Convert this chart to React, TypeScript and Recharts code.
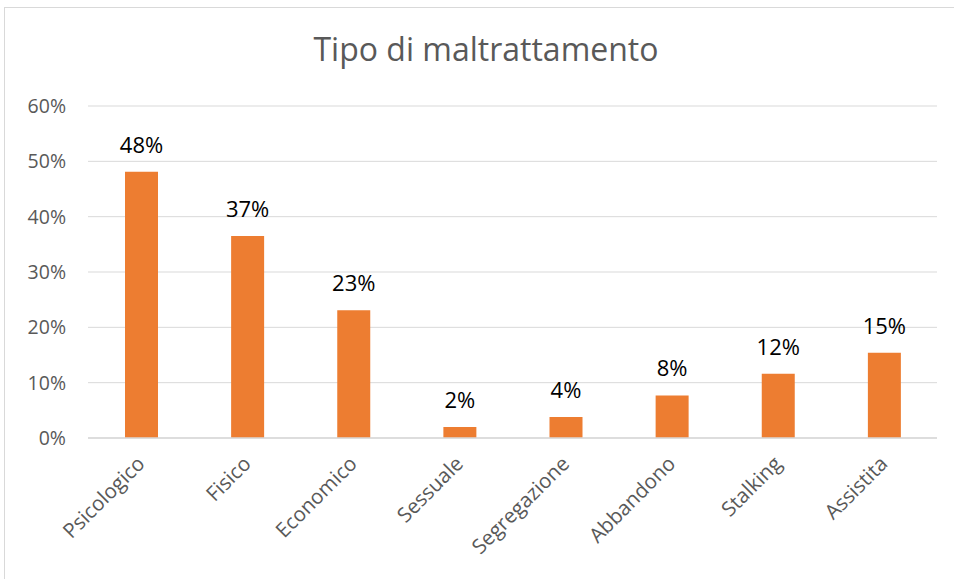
import { BarChart, Bar, XAxis, YAxis, CartesianGrid, LabelList } from 'recharts'

const categories = ['Psicologico', 'Fisico', 'Economico', 'Sessuale', 'Segregazione', 'Abbandono', 'Stalking', 'Assistita']
const values = [0.481, 0.365, 0.231, 0.02, 0.038, 0.077, 0.116, 0.154]
const yTicks = [0, 0.1, 0.2, 0.3, 0.4, 0.5, 0.6]

const data = categories.map((name, i) => ({ name, value: values[i] }))

const pct = (v: number) => `${Math.round(v * 100)}%`
const FONT = '"Open Sans", "Noto Sans", sans-serif'

function XTick({ x, y, payload }: any) {
  return (
    <text
      x={x + 5}
      y={y + 19}
      transform={`rotate(-45, ${x + 5}, ${y + 19})`}
      textAnchor="end"
      fill="#595959"
      fontSize={20.5}
      fontFamily={FONT}
    >
      {payload.value}
    </text>
  )
}

export default function App() {
  return (
    <div style={{ position: 'absolute', left: 0, top: 0, width: 954, height: 579, overflow: 'hidden', background: '#fff' }}>
      <div style={{ position: 'absolute', left: 4, top: 7, width: 1000, height: 700, border: '1.5px solid #d9d9d9' }} />
      <div
        style={{
          position: 'absolute', left: 0, top: 27, width: 972, textAlign: 'center',
          fontFamily: FONT, fontSize: 32, color: '#595959', lineHeight: 'normal',
        }}
      >
        Tipo di maltrattamento
      </div>
      <div style={{ position: 'absolute', left: 0, top: 0 }}>
        <BarChart width={954} height={579} data={data} margin={{ top: 106, right: 17, bottom: 21, left: 0 }}>
          <CartesianGrid stroke="#d9d9d9" vertical={false} />
          <XAxis
            dataKey="name"
            interval={0}
            height={120}
            tick={<XTick />}
            tickLine={false}
            axisLine={{ stroke: '#d9d9d9', strokeWidth: 1.5 }}
          />
          <YAxis
            domain={[0, 0.6]}
            ticks={yTicks}
            width={88}
            tickFormatter={pct}
            tickLine={false}
            axisLine={false}
            tickMargin={16}
            tick={{ fill: '#595959', fontSize: 19.5, fontFamily: FONT }}
          />
          <Bar dataKey="value" fill="#ED7D31" barSize={33} isAnimationActive={false}>
            <LabelList dataKey="value" position="top" offset={19} formatter={(v: any) => pct(v)} fill="#000" fontSize={22} fontFamily={FONT} />
          </Bar>
        </BarChart>
      </div>
    </div>
  )
}
